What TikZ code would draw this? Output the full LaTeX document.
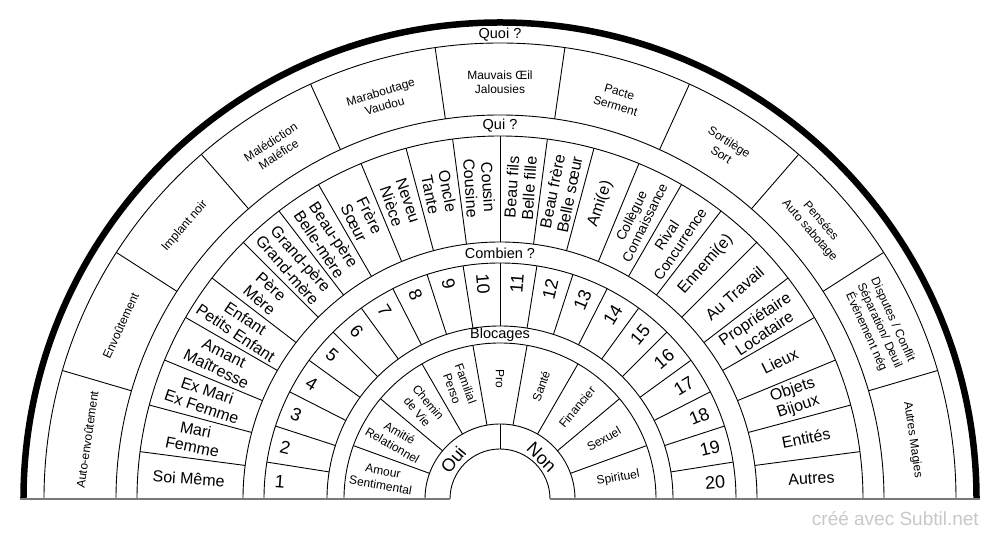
\documentclass[tikz,border=0pt]{standalone}
\usepackage{fontspec}
\setmainfont{Liberation Sans}
\usepackage{tikz}
\definecolor{basegray}{RGB}{120,120,120}
\definecolor{markgray}{RGB}{200,200,200}

\tikzset{
  ring/.style={line width=0.9pt},
  base/.style={draw=basegray, line width=1.3pt},
  quoilbl/.style={font=\fontsize{12}{14.5}\selectfont, align=center, inner sep=0pt},
  quilbl/.style={font=\quifont, align=center, inner sep=0pt},
  numlbl/.style={font=\fontsize{18}{20}\selectfont, inner sep=0pt},
  bloclbl/.style={font=\fontsize{12}{14.5}\selectfont, align=center, inner sep=0pt},
  bandlbl/.style={font=\fontsize{14.5}{16}\selectfont, inner sep=0pt},
  ouilbl/.style={font=\fontsize{18}{20}\selectfont, inner sep=0pt}
}

\begin{document}
\begin{tikzpicture}
    \useasboundingbox (-500pt,-41pt) rectangle (500pt,499pt);

    % Rings
    \foreach \r in {50,75,156,173,236,257,363,384,456}
        \draw[ring] (0:\r pt) arc[start angle=0, end angle=180, radius=\r pt];
    \draw[line width=6.5pt] (0:476.5pt) arc[start angle=0, end angle=180, radius=476.5pt];
    \draw[base] (-480pt,0pt) -- (-50pt,0pt);
    \draw[base] (50pt,0pt) -- (480pt,0pt);

    % Spokes
    \draw[ring] (90:50pt) -- (90:75pt);
    \foreach \k in {1,...,8}
        \draw[ring] (20*\k:75pt) -- (20*\k:156pt);
    \foreach \k in {1,...,19}
        \draw[ring] (9*\k:173pt) -- (9*\k:236pt);
    \foreach \k in {1,...,23}
        \draw[ring] (7.5*\k:257pt) -- (7.5*\k:363pt);
    \foreach \k in {1,...,10}
        \draw[ring] (180/11*\k:384pt) -- (180/11*\k:456pt);

    % Band titles
    \node[bandlbl] (hquoi) at (90:464pt) {Quoi ?};
    \node[bandlbl] (hqui) at (90:373pt) {Qui ?};
    \node[bandlbl] (hcomb) at (90:246pt) {Combien ?};
    \node[bandlbl] (hbloc) at (90:164pt) {Blocages};

    % Quoi ?
    \foreach \txt [count=\i] in {Auto-envoûtement, Envoûtement, Implant noir,
        {Malédiction\\Maléfice}, {Maraboutage\\Vaudou}, {Mauvais Œil\\Jalousies},
        {Pacte\\Serment}, {Sortilège\\Sort}, {Pensées\\Auto sabotage},
        {Disputes / Conflit\\Séparation/ Deuil\\Événement nég}, Autres Magies}{
        \pgfmathsetmacro\ang{180-180/11*(\i-0.5)}
        \pgfmathsetmacro\rot{\ang-90}
        \node[quoilbl, rotate=\rot] (quoi\i) at (\ang:417pt) {\txt};
    }

    % Qui ?
    \foreach \txt [count=\i] in {Soi Même, {Mari\\Femme}, {Ex Mari\\Ex Femme},
        {Amant\\Maîtresse}, {Enfant\\Petits Enfant}, {Père\\Mère},
        {Grand-père\\Grand-mère}, {Beau-père\\Belle-mère}, {Frère\\Sœur},
        {Neveu\\Nièce}, {Oncle\\Tante}, {Cousin\\Cousine}, {Beau fils\\Belle fille},
        {Beau frère\\Belle sœur}, Ami(e), {Collègue\\Connaissance},
        {Rival\\Concurrence}, Ennemi(e), Au Travail, {Propriétaire\\Locataire},
        Lieux, {Objets\\Bijoux}, Entités, Autres}{
        \pgfmathsetmacro\ang{180-7.5*(\i-0.5)}
        \pgfmathsetmacro\rot{\ang-180*(\i<13)}
        \ifnum\i=16 \def\quifont{\fontsize{13.5}{15}\selectfont}
        \else\ifnum\i=17 \def\quifont{\fontsize{14.5}{16}\selectfont}
        \else \def\quifont{\fontsize{16}{17.5}\selectfont}\fi\fi
        \node[quilbl, rotate=\rot] (qui\i) at (\ang:312pt) {\txt};
    }

    % Combien ?
    \foreach \i in {1,...,20}{
        \pgfmathsetmacro\ang{180-9*(\i-0.5)}
        \pgfmathsetmacro\rot{\ang-180*(\i<11)}
        \ifnum\i<11 \def\anc{west}\else\def\anc{east}\fi
        \node[numlbl, anchor=\anc, rotate=\rot] (nb\i) at (\ang:226pt) {\i};
    }

    % Blocages
    \foreach \txt [count=\i] in {{Amour\\Sentimental}, {Amitié\\Relationnel},
        {Chemin\\de Vie}, {Familial\\Perso}, Pro, Santé, Financier, Sexuel, Spirituel}{
        \pgfmathsetmacro\ang{180-20*(\i-0.5)}
        \pgfmathsetmacro\rot{\ang-180*(\i<6)}
        \node[bloclbl, rotate=\rot] (bl\i) at (\ang:120pt) {\txt};
    }

    % Oui / Non
    \node[ouilbl, rotate=50] (oui) at (140:61pt) {Oui};
    \node[ouilbl, rotate=-45] (non) at (45:59pt) {Non};

    \node[font=\fontsize{19}{22}\selectfont, text=markgray, anchor=east, inner sep=0pt]
        (mark) at (479pt,-20pt) {créé avec Subtil.net};
\end{tikzpicture}
\end{document}
